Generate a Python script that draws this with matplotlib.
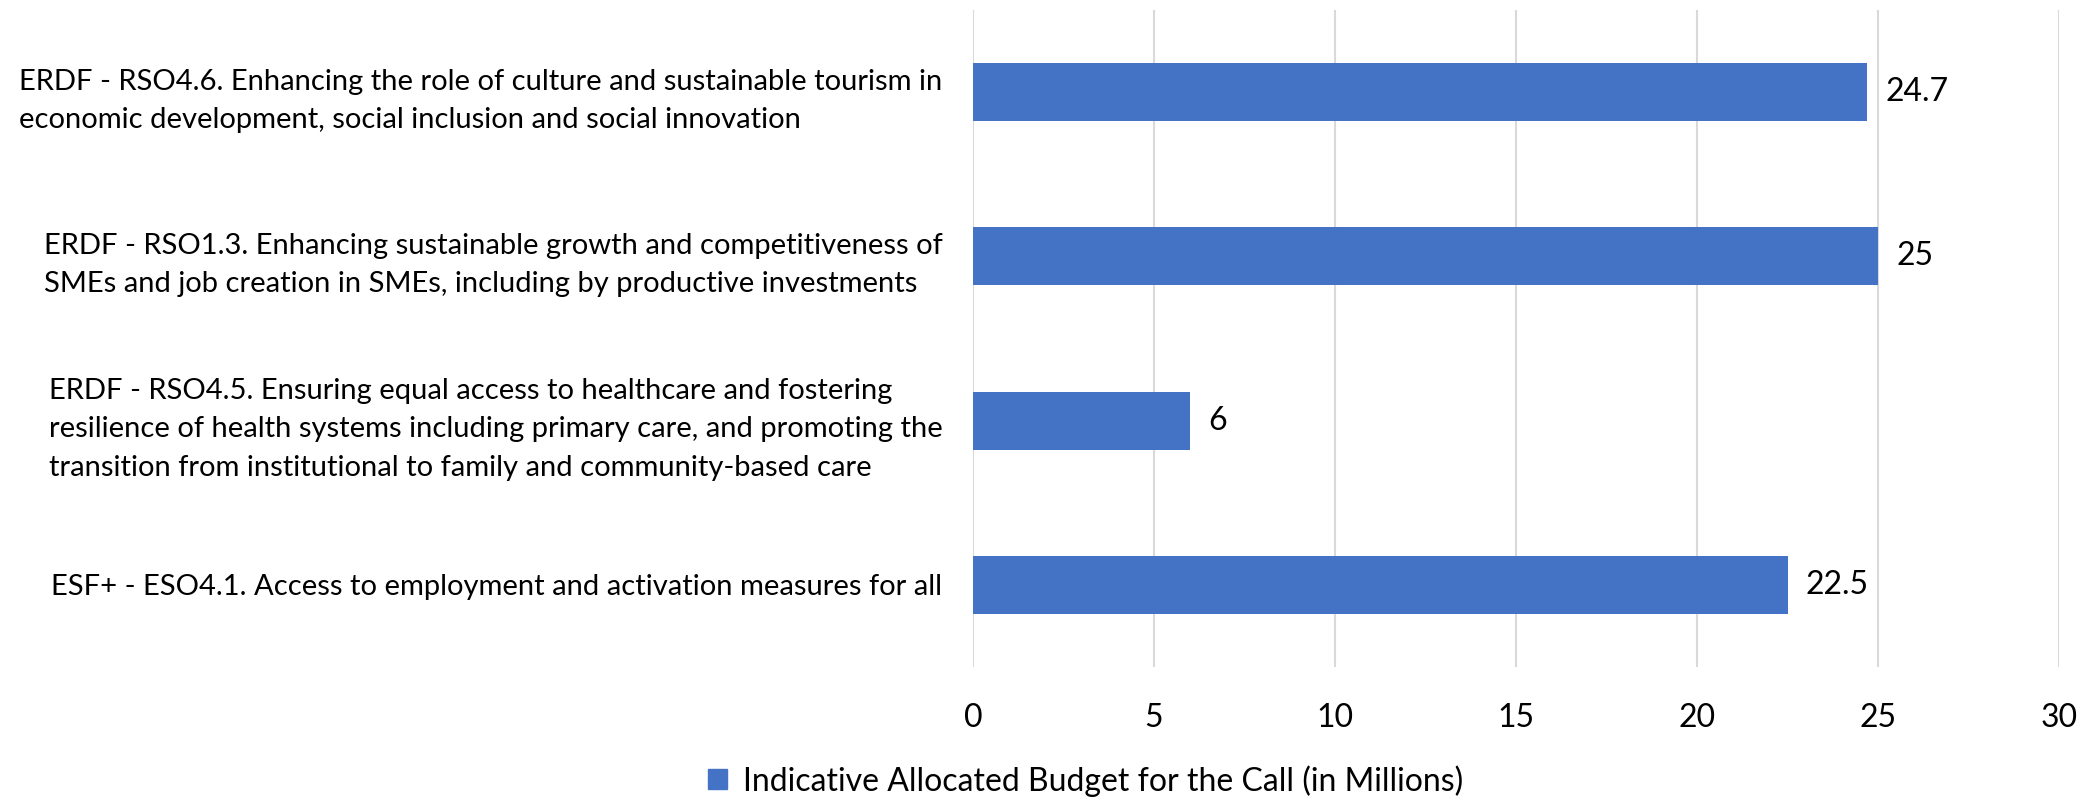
import matplotlib
matplotlib.use("Agg")
import matplotlib.pyplot as plt
from matplotlib.patches import Patch

plt.rcParams['font.family'] = ['Lato', 'DejaVu Sans']

categories = [
    "ERDF - RSO4.6. Enhancing the role of culture and sustainable tourism in\n"
    "economic development, social inclusion and social innovation",
    "ERDF - RSO1.3. Enhancing sustainable growth and competitiveness of\n"
    "SMEs and job creation in SMEs, including by productive investments",
    "ERDF - RSO4.5. Ensuring equal access to healthcare and fostering\n"
    "resilience of health systems including primary care, and promoting the\n"
    "transition from institutional to family and community-based care",
    "ESF+ - ESO4.1. Access to employment and activation measures for all",
]
budget = [24.7, 25, 6, 22.5]
value_labels = ["24.7", "25", "6", "22.5"]
x_ticks = [0, 5, 10, 15, 20, 25, 30]
legend_label = "Indicative Allocated Budget for the Call (in Millions)"

bar_color = "#4472C4"
grid_color = "#D9D9D9"

fig = plt.figure(figsize=(20.93, 8), dpi=100)
ax = fig.add_axes([0.4649, 0.16625, 0.5189, 0.82125])

ypos = list(range(len(categories)))
bars = ax.barh(ypos, budget, height=0.354, color=bar_color, zorder=3)
ax.bar_label(bars, labels=value_labels, padding=13, fontsize=23, color="black")

ax.set_xlim(0, 30)
ax.set_ylim(len(categories) - 0.5, -0.5)
ax.set_xticks(x_ticks)
ax.set_xticklabels([str(t) for t in x_ticks], fontsize=23)
ax.set_yticks(ypos)
ax.set_yticklabels(categories, fontsize=21, linespacing=1.6)
for lab in ax.get_yticklabels():
    lab.set_multialignment("left")

ax.tick_params(axis="x", length=0, pad=26)
ax.tick_params(axis="y", length=0, pad=22)
for s in ax.spines.values():
    s.set_visible(False)
ax.grid(axis="x", color=grid_color, linewidth=1.5, zorder=0)
ax.set_axisbelow(True)

fig.legend(handles=[Patch(color=bar_color)], labels=[legend_label],
           loc="center", bbox_to_anchor=(0.5187, 0.024), frameon=False,
           fontsize=23, handlelength=0.6, handleheight=0.6, handletextpad=0.5)

fig.savefig("out.png", dpi=100)
